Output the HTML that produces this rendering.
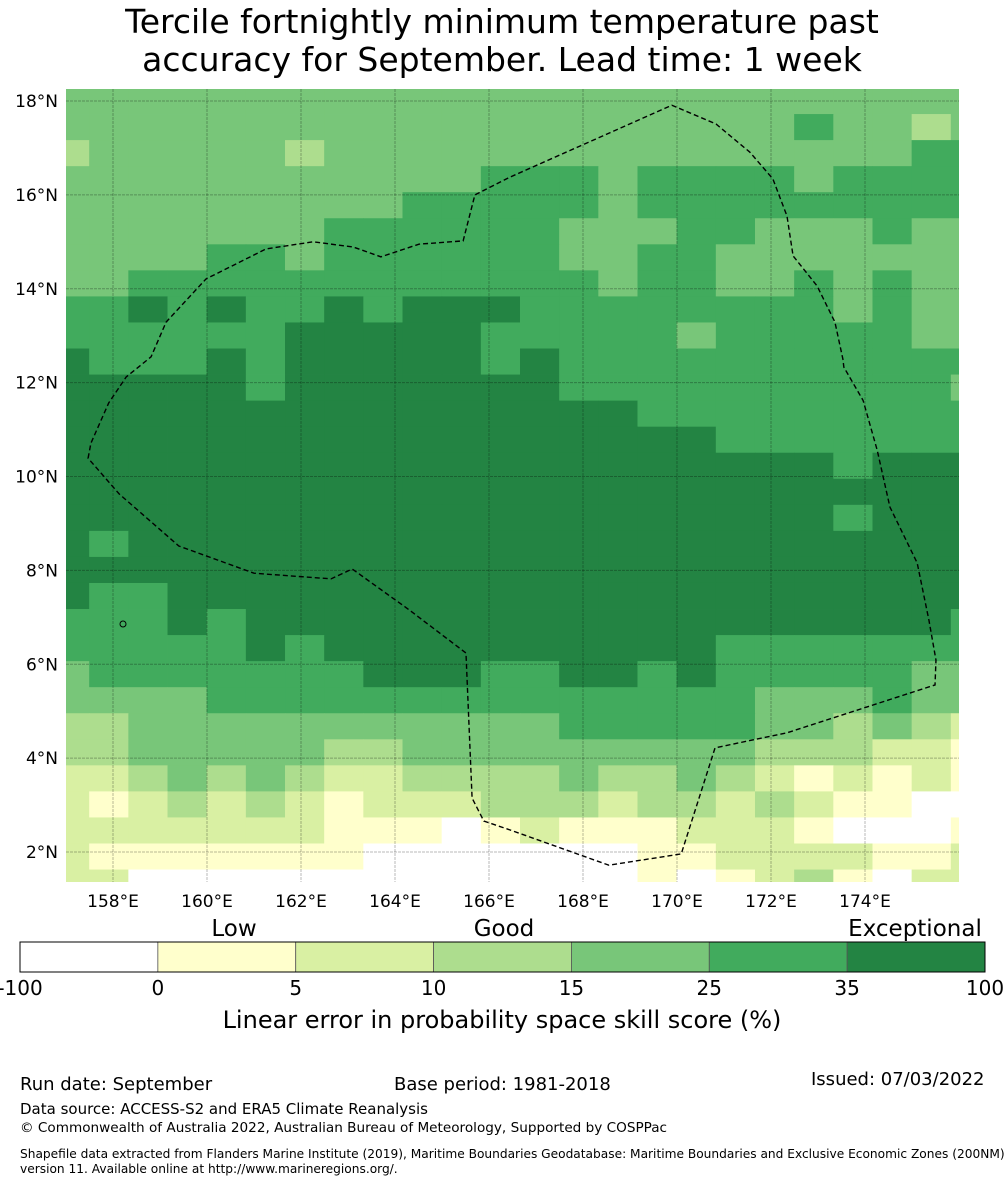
<!DOCTYPE html>
<html><head><meta charset="utf-8"><style>
html,body{margin:0;padding:0;background:#fff;}
svg text{font-family:"DejaVu Sans","Liberation Sans",sans-serif;}
</style></head><body>
<svg id="chart" width="1005" height="1185" viewBox="0 0 1005 1185" xmlns="http://www.w3.org/2000/svg">
<text x="502" y="33" font-size="33" text-anchor="middle">Tercile fortnightly minimum temperature past</text>
<text x="502" y="71" font-size="33" text-anchor="middle">accuracy for September. Lead time: 1 week</text>
<defs><clipPath id="mapclip"><rect x="66" y="89" width="893" height="793"/></clipPath></defs>
<g id="map" clip-path="url(#mapclip)"></g>
<g id="axes"></g>
<g id="cbar"></g>
<text x="234" y="936" font-size="23" text-anchor="middle">Low</text>
<text x="504" y="936" font-size="23" text-anchor="middle">Good</text>
<text x="915" y="936" font-size="23" text-anchor="middle">Exceptional</text>
<text x="502" y="1028" font-size="24" text-anchor="middle">Linear error in probability space skill score (%)</text>
<text x="20" y="1090" font-size="18">Run date: September</text>
<text x="394" y="1090" font-size="18">Base period: 1981-2018</text>
<text x="811" y="1085" font-size="18">Issued: 07/03/2022</text>
<text x="20" y="1114" font-size="15">Data source: ACCESS-S2 and ERA5 Climate Reanalysis</text>
<text x="20" y="1132" font-size="13.6">© Commonwealth of Australia 2022, Australian Bureau of Meteorology, Supported by COSPPac</text>
<text x="20" y="1158" font-size="12.2">Shapefile data extracted from Flanders Marine Institute (2019), Maritime Boundaries Geodatabase: Maritime Boundaries and Exclusive Economic Zones (200NM),</text>
<text x="20" y="1173" font-size="12.2">version 11. Available online at http://www.marineregions.org/.</text>
</svg>
<script>
const colors = ["#ffffff","#ffffcc","#d9f0a3","#addd8e","#78c679","#41ab5d","#238443"];
const cbTicks = ["-100","0","5","10","15","25","35","100"];
const lonTicks = [158,160,162,164,166,168,170,172,174];
const latTicks = [2,4,6,8,10,12,14,16,18];
const gridLon0 = 156.66, gridLat0 = 18.277, dLon = 0.8333, dLat = 0.555;
const cells = [
"444444444444444444444444",
"444444444444444444454434",
"344444344444444444444455",
"444444444445554555545555",
"444444444555554555555555",
"444444455555544455444544",
"444455455555544554444444",
"445555555555554554454544",
"556565565666555555554544",
"555555666665555545555544",
"655565666665655555555555",
"666665666666655555555554",
"666666666666666555555555",
"666666666666666665555555",
"666666666666666666665666",
"666666666666666666666666",
"666666666666666666665666",
"656666666666666666666666",
"666666666666666666666666",
"655666666666666666666666",
"555656666666666666666665",
"555556566666666665555555",
"455555556665566565555544",
"444455555555555555444544",
"334444444444455555443432",
"334444433444444444333221",
"223434322333343343212121",
"212323212223332332321100",
"222222211101211122210001",
"211111110000000112222112",
"220000000000000101231022"];
const eezLon = [157.47,157.53,157.91,158.28,158.81,159.13,159.98,161.26,162.26,163.11,163.70,164.51,165.45,165.70,166.45,169.89,170.83,171.55,172.04,172.34,172.47,172.98,173.36,173.53,173.55,173.96,174.26,174.53,175.11,175.36,175.51,175.49,172.34,170.81,170.09,168.55,166.45,165.89,165.64,165.51,164.30,163.09,162.64,161.00,159.40,158.13];
const eezLat = [10.39,10.71,11.57,12.12,12.55,13.29,14.21,14.85,15.00,14.89,14.68,14.95,15.02,16.00,16.38,17.91,17.51,16.91,16.34,15.55,14.70,14.06,13.29,12.50,12.33,11.62,10.56,9.35,8.16,6.94,6.09,5.56,4.54,4.22,1.96,1.72,2.47,2.66,3.15,6.24,7.16,8.03,7.82,7.94,8.52,9.63];

const NS="http://www.w3.org/2000/svg";
const X = lon => 113 + (lon-158)*47;
const Y = lat => 101 + (18-lat)*46.94;
function mk(tag, attrs, parent){const e=document.createElementNS(NS,tag);for(const k in attrs)e.setAttribute(k,attrs[k]);parent.appendChild(e);return e;}
const map=document.getElementById('map');
cells.forEach((row,r)=>{
  for(let c=0;c<row.length;c++){
    const v=+row[c];
    const x0=X(gridLon0+c*dLon), x1=X(gridLon0+(c+1)*dLon);
    const y0=Y(gridLat0-r*dLat), y1=Y(gridLat0-(r+1)*dLat);
    const e=mk('rect',{x:x0,y:y0,width:x1-x0+0.4,height:y1-y0+0.4,fill:colors[v]},map);
    
    
  }
});
lonTicks.forEach(l=>{
  const e=mk('line',{x1:X(l),x2:X(l),y1:89,y2:882,stroke:'rgba(0,0,0,0.28)','stroke-width':1,'stroke-dasharray':'3,1'},map);
  
  
});
latTicks.forEach(l=>{
  const e=mk('line',{x1:66,x2:959,y1:Y(l),y2:Y(l),stroke:'rgba(0,0,0,0.28)','stroke-width':1,'stroke-dasharray':'3,1'},map);
  
  
});
const pts=eezLon.map((l,i)=>X(l)+','+Y(eezLat[i])).join(' ');
const eez=mk('polygon',{points:pts,fill:'none',stroke:'#000','stroke-width':1.4,'stroke-dasharray':'5,3'},map);


const isl=mk('circle',{cx:123,cy:624,r:3,fill:'none',stroke:'#000','stroke-width':1},map);


const axes=document.getElementById('axes');
lonTicks.forEach(l=>{
  const t=mk('text',{x:X(l),y:907,'font-size':17,'text-anchor':'middle'},axes);
  t.textContent=l+'°E';
  
  
});
latTicks.forEach(l=>{
  const t=mk('text',{x:58,y:Y(l)+6,'font-size':17,'text-anchor':'end'},axes);
  t.textContent=l+'°N';
  
  
});
const cb=document.getElementById('cbar');
const cbX=20, cbW=965, n=colors.length;
colors.forEach((col,i)=>{
  const e=mk('rect',{x:cbX+i*cbW/n,y:942,width:cbW/n,height:30,fill:col,stroke:'#555','stroke-width':0.8},cb);
  
  
});
const cbo=mk('rect',{x:cbX,y:942,width:cbW,height:30,fill:'none',stroke:'#000','stroke-width':1},cb);


cbTicks.forEach((s,i)=>{
  const t=mk('text',{x:cbX+i*cbW/n,y:995,'font-size':20,'text-anchor':'middle'},cb);
  t.textContent=s;
  
  
});
</script>
</body></html>
